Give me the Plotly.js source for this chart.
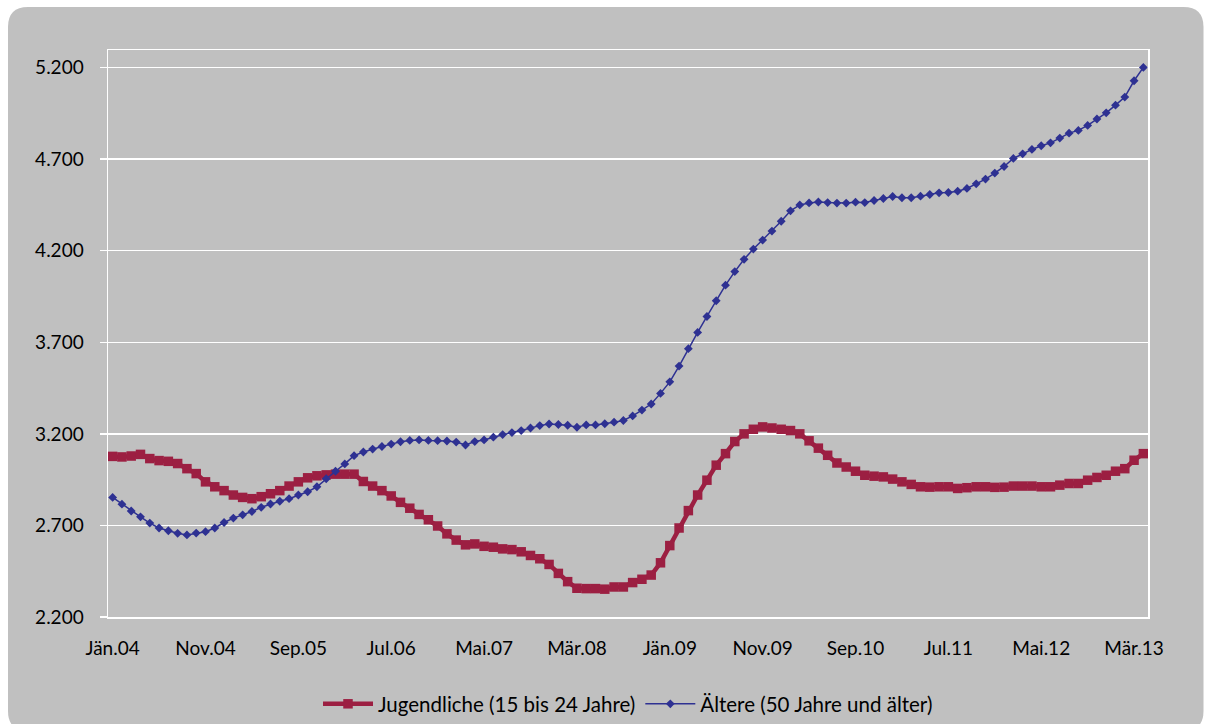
<!DOCTYPE html>
<html>
<head>
<meta charset="utf-8">
<script src="https://cdn.plot.ly/plotly-3.0.1.min.js"></script>
<style>
  html, body { margin: 0; padding: 0; background: #ffffff; }
  #chart { width: 1205px; height: 724px; }
</style>
</head>
<body>
<div id="chart"></div>
<script>
// ---- Data (monthly, Jän.04 – Apr.13) ----
const monthNames = ["Jän", "Feb", "Mär", "Apr", "Mai", "Jun", "Jul", "Aug", "Sep", "Okt", "Nov", "Dez"];
const years = ["04", "05", "06", "07", "08", "09", "10", "11", "12", "13"];
const months = [];
years.forEach(y => monthNames.forEach(m => months.push(m + "." + y)));
months.length = 112; // Jän.04 .. Apr.13

const seriesNames = ["Jugendliche (15 bis 24 Jahre)", "Ältere (50 Jahre und älter)"];

const jugendliche = [
  3077, 3074, 3079, 3088, 3065, 3054, 3050, 3038, 3010, 2983,
  2938, 2911, 2890, 2866, 2853, 2846, 2857, 2873, 2890, 2915,
  2938, 2960, 2971, 2976, 2980, 2980, 2980, 2940, 2915, 2890,
  2861, 2826, 2794, 2760, 2731, 2697, 2654, 2620, 2594, 2599,
  2586, 2581, 2572, 2568, 2556, 2536, 2518, 2487, 2438, 2393,
  2357, 2355, 2355, 2352, 2364, 2364, 2388, 2406, 2429, 2496,
  2590, 2686, 2781, 2866, 2947, 3029, 3092, 3158, 3200, 3225,
  3238, 3232, 3225, 3218, 3200, 3162, 3122, 3083, 3041, 3019,
  2996, 2974, 2969, 2965, 2953, 2938, 2924, 2911, 2909, 2911,
  2911, 2902, 2906, 2911, 2911, 2908, 2909, 2915, 2915, 2915,
  2911, 2911, 2920, 2929, 2929, 2947, 2962, 2974, 2996, 3010,
  3056, 3092
];

const aeltere = [
  2853, 2816, 2779, 2747, 2713, 2686, 2671, 2657, 2648, 2658,
  2666, 2686, 2716, 2740, 2758, 2776, 2799, 2817, 2832, 2846,
  2866, 2884, 2911, 2955, 2996, 3036, 3081, 3101, 3117, 3131,
  3144, 3157, 3164, 3167, 3164, 3163, 3161, 3155, 3139, 3158,
  3167, 3182, 3196, 3207, 3218, 3232, 3245, 3254, 3251, 3247,
  3236, 3249, 3249, 3255, 3264, 3273, 3298, 3330, 3363, 3421,
  3484, 3570, 3665, 3754, 3841, 3927, 4012, 4086, 4153, 4209,
  4258, 4307, 4361, 4418, 4450, 4461, 4466, 4463, 4460, 4460,
  4465, 4463, 4474, 4485, 4496, 4489, 4489, 4498, 4507, 4516,
  4518, 4525, 4540, 4565, 4591, 4624, 4660, 4704, 4729, 4753,
  4773, 4789, 4815, 4842, 4857, 4884, 4919, 4953, 4995, 5039,
  5128, 5201
];

const labelStep = 10;
const yTickStart = 2200, yTickStep = 500;

// ---- Derived positions ----
const xIdx = months.map((_, i) => i);
const labelVals = xIdx.filter(i => i % labelStep === 0);
const labelText = labelVals.map(i => months[i]);
const boundaryVals = labelVals.map(i => i - 0.5);
const xRange = [-0.5, months.length - 0.5];

// ---- Layout geometry ----
const W = 1205, H = 724;
const M = { l: 108, r: 57, t: 50, b: 107, autoexpand: false };
const pw = W - M.l - M.r, ph = H - M.t - M.b;
const px2fx = p => (p - M.l) / pw;
const py2fy = p => (H - M.b - p) / ph;

function roundedRect(x0, y0, x1, y1, r) {
  const L = px2fx(x0), R = px2fx(x1), T = py2fy(y0), B = py2fy(y1);
  const rx = r / pw, ry = r / ph;
  return `M${L + rx},${T} L${R - rx},${T} Q${R},${T} ${R},${T - ry} ` +
         `L${R},${B + ry} Q${R},${B} ${R - rx},${B} L${L + rx},${B} ` +
         `Q${L},${B} ${L},${B + ry} L${L},${T - ry} Q${L},${T} ${L + rx},${T} Z`;
}

const GREY = "#c0c0c0";
const RED = "#9c1f42";
const BLUE = "#2e3192";
const FONT = "Lato, 'Open Sans', sans-serif";

const traces = [
  {
    x: xIdx, y: jugendliche, name: seriesNames[0], type: "scatter", mode: "lines+markers",
    line: { color: RED, width: 4.5 },
    marker: { symbol: "square", size: 9.5, color: RED }
  },
  {
    x: xIdx, y: aeltere, name: seriesNames[1], type: "scatter", mode: "lines+markers",
    line: { color: BLUE, width: 1.5 },
    marker: { symbol: "diamond", size: 6.8, color: BLUE }
  }
];

const baseTickAxis = {
  overlaying: "x", anchor: "y", range: xRange,
  tickmode: "array", tickvals: boundaryVals,
  ticklen: 6, tickwidth: 1.5, tickcolor: "#ffffff",
  showticklabels: false, showgrid: false, showline: false, zeroline: false,
  fixedrange: true
};

const layout = {
  width: W, height: H,
  margin: M,
  paper_bgcolor: "#ffffff",
  plot_bgcolor: GREY,
  separators: ",.",
  font: { family: FONT, color: "#000000", size: 19 },
  showlegend: true,
  legend: {
    orientation: "h", x: 0.5, xanchor: "center", y: -0.1534, yanchor: "middle",
    bgcolor: "rgba(0,0,0,0)", font: { family: FONT, size: 20.5, color: "#000000" },
    itemwidth: 50, tracegroupgap: 0
  },
  xaxis: {
    range: xRange, tickmode: "array", tickvals: labelVals, ticktext: labelText,
    ticks: "", showgrid: false, zeroline: false,
    showline: true, linecolor: "#ffffff", linewidth: 1.5, mirror: true,
    tickfont: { family: FONT, size: 19, color: "#000000" },
    ticklabelstandoff: 14
  },
  xaxis2: Object.assign({}, baseTickAxis, { ticks: "outside" }),
  xaxis3: Object.assign({}, baseTickAxis, { ticks: "inside" }),
  yaxis: {
    range: [yTickStart, 5296], tick0: yTickStart, dtick: yTickStep, tickmode: "linear",
    tickformat: ",.0f",
    ticks: "outside", ticklen: 7, tickwidth: 1.5, tickcolor: "#ffffff",
    showgrid: true, gridcolor: "#ffffff", gridwidth: 1.5, zeroline: false,
    showline: true, linecolor: "#ffffff", linewidth: 1.5, mirror: true,
    tickfont: { family: FONT, size: 19, color: "#000000" },
    ticklabelstandoff: 12
  },
  shapes: [{
    type: "path", xref: "paper", yref: "paper", layer: "below",
    path: roundedRect(8, 7, 1203.5, 731, 20),
    fillcolor: GREY, line: { width: 0 }
  }]
};

Plotly.newPlot("chart", traces, layout, { displayModeBar: false, staticPlot: true });
</script>
</body>
</html>
